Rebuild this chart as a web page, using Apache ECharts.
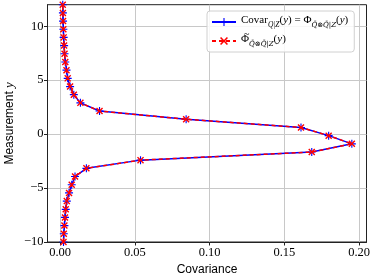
<!DOCTYPE html>
<html>
<head>
<meta charset="utf-8">
<script src="https://cdn.jsdelivr.net/npm/echarts@6/dist/echarts.min.js"></script>
<style>html,body{margin:0;padding:0;background:#fff}#c{width:374px;height:279px}</style>
</head>
<body>
<div id="c"></div>
<script>
// Measurement y values (bottom to top)
const measurementY = [-10, -9.24, -8.48, -7.72, -6.97, -6.21, -5.45, -4.69, -3.93, -3.17,
  -2.41, -1.66, -0.90, -0.14, 0.62, 1.38, 2.14, 2.90, 3.66, 4.41,
  5.17, 5.93, 6.69, 7.45, 8.21, 8.97, 9.72, 10.48, 11.24, 12];
// Covar_{Q|Z}(y) = Phi
const covarValues = [0.0023, 0.0025, 0.0029, 0.0033, 0.0038, 0.0045, 0.0060, 0.0078, 0.0100, 0.0176,
  0.0538, 0.1683, 0.1951, 0.1796, 0.1611, 0.0843, 0.0264, 0.0136, 0.0092, 0.0067,
  0.0051, 0.0043, 0.0035, 0.0030, 0.0027, 0.0024, 0.0022, 0.0020, 0.0019, 0.0018];
// Phi tilde
const phiTildeValues = [0.0023, 0.0025, 0.0029, 0.0033, 0.0038, 0.0045, 0.0060, 0.0078, 0.0100, 0.0176,
  0.0538, 0.1683, 0.1951, 0.1796, 0.1611, 0.0843, 0.0264, 0.0136, 0.0092, 0.0067,
  0.0051, 0.0043, 0.0035, 0.0030, 0.0027, 0.0024, 0.0022, 0.0020, 0.0019, 0.0018];
const xTicks = [0, 0.05, 0.10, 0.15, 0.20];
const yTicks = [-10, -5, 0, 5, 10];

const serif = '"Liberation Serif", "DejaVu Serif", serif';
const dserif = '"DejaVu Serif", serif';
const sans = '"Liberation Sans", "DejaVu Sans", sans-serif';
const plusPath = 'path://M4.3,0H5.7V4.3H10V5.7H5.7V10H4.3V5.7H0V4.3H4.3Z';
const xPath = 'path://M1.4,0L5,3.6L8.6,0L10,1.4L6.4,5L10,8.6L8.6,10L5,6.4L1.4,10L0,8.6L3.6,5L0,1.4Z';

const pairs = (xs) => xs.map((v, i) => [v, measurementY[i]]);
const names = ['covar', 'phit'];

const chart = echarts.init(document.getElementById('c'), null, {renderer: 'canvas'});
const rich = {
  a: {fontFamily: serif, fontSize: 11, lineHeight: 14, color: '#000', verticalAlign: 'top'},
  i: {fontFamily: serif, fontSize: 11, lineHeight: 14, color: '#000', fontStyle: 'italic', verticalAlign: 'top'},
  s: {fontFamily: serif, fontSize: 7.5, lineHeight: 6, color: '#000', fontStyle: 'italic', verticalAlign: 'bottom'},
  q: {fontFamily: dserif, fontSize: 7, lineHeight: 6, color: '#000', fontStyle: 'italic', verticalAlign: 'bottom'}
};
chart.setOption({
  animation: false,
  grid: {left: 47.5, right: 7.5, top: 4.7, bottom: 37, outerBoundsMode: 'none', containLabel: false,
    show: true, borderColor: '#222', borderWidth: 1, backgroundColor: 'transparent'},
  xAxis: {
    type: 'value', min: -0.0084, max: 0.2049,
    name: 'Covariance', nameLocation: 'middle', nameGap: 22, nameMoveOverlap: false,
    nameTextStyle: {fontFamily: sans, fontSize: 12, color: '#000'},
    axisLine: {show: true, onZero: false, lineStyle: {color: '#222', width: 1}},
    axisTick: {show: true, customValues: xTicks, length: 3.5, lineStyle: {color: '#222'}},
    axisLabel: {customValues: xTicks, margin: 4, fontFamily: serif, fontSize: 12.5, color: '#000',
      formatter: v => v.toFixed(2)},
    splitLine: {show: true, lineStyle: {color: '#c8c8c8', width: 1}}
  },
  yAxis: {
    type: 'value', min: -10, max: 12,
    name: '{n|Measurement }{y|y}', nameLocation: 'middle', nameGap: 31, nameMoveOverlap: false,
    nameTextStyle: {rich: {
      n: {fontFamily: sans, fontSize: 12, color: '#000'},
      y: {fontFamily: serif, fontSize: 13, fontStyle: 'italic', color: '#000'}
    }},
    axisLine: {show: true, onZero: false, lineStyle: {color: '#222', width: 1}},
    axisTick: {show: true, customValues: yTicks, length: 3.5, lineStyle: {color: '#222'}},
    axisLabel: {customValues: yTicks, margin: 4, fontFamily: serif, fontSize: 12.5, color: '#000',
      formatter: v => (v < 0 ? '\u2212' + Math.abs(v) : String(v))},
    splitLine: {show: true, lineStyle: {color: '#c8c8c8', width: 1}}
  },
  legend: {
    show: true, orient: 'vertical', left: 207, top: 11,
    padding: [4, 6, 4, 4], itemGap: 5, itemWidth: 24, itemHeight: 10,
    backgroundColor: 'rgba(255,255,255,0.85)', borderColor: '#d0d0d0', borderWidth: 1, borderRadius: 3,
    textStyle: {rich: rich},
    formatter: function (name) {
      if (name === 'covar') return '{a|Covar}{s|Q|Z}{a|(}{i|y}{a|) = \u03A6}{q|Q\u0304\u2297Q\u0304|Z}{a|(}{i|y}{a|)}';
      return '{a|\u03A6}{q|Q\u0304\u2297Q\u0304|Z}{a|(}{i|y}{a|)}';
    },
    data: names
  },
  graphic: [
    {type: 'text', left: 244, top: 29, z: 100,
      style: {text: '~', font: '10px "Liberation Serif", serif', fill: '#000'}}
  ],
  series: [
    {
      name: 'covar', type: 'line', data: pairs(covarValues), clip: true,
      symbol: plusPath, symbolSize: 8, showSymbol: true,
      itemStyle: {color: '#0000ff'},
      lineStyle: {color: '#0000ff', width: 1.5}, z: 2
    },
    {
      name: 'phit', type: 'line', data: pairs(phiTildeValues), clip: true,
      symbol: xPath, symbolSize: 7, showSymbol: true,
      itemStyle: {color: '#ff0000'},
      lineStyle: {color: '#ff0000', width: 1.5, type: [4, 3]}, z: 3
    }
  ]
});
</script>
</body>
</html>
